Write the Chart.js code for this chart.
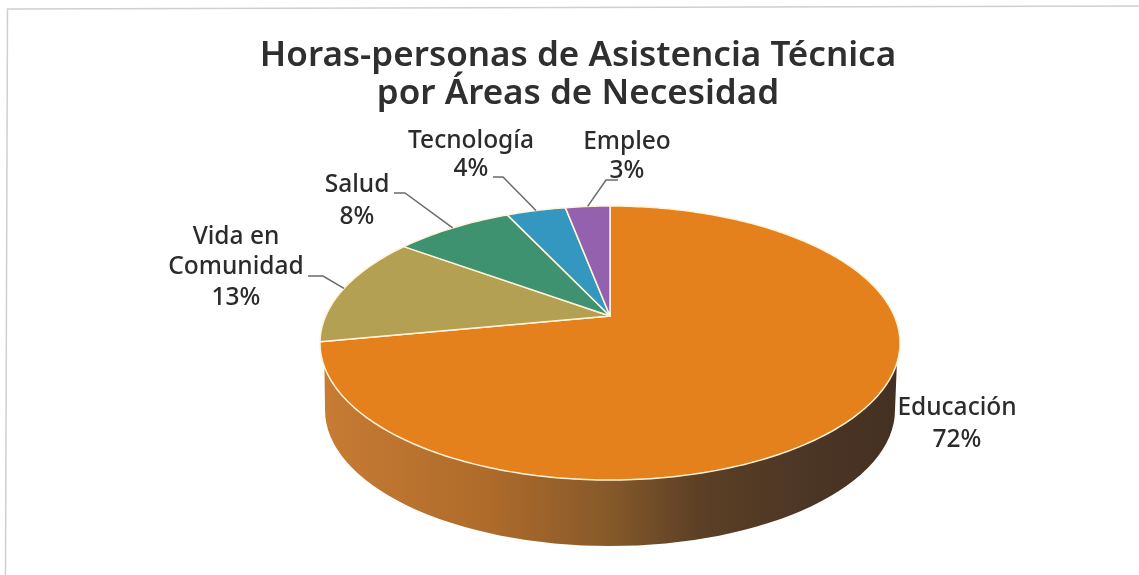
<!DOCTYPE html>
<html>
<head>
<meta charset="utf-8">
<script src="https://cdn.jsdelivr.net/npm/chart.js@4/dist/chart.umd.js"></script>
<style>
  html, body { margin: 0; padding: 0; background: #fff; }
  #wrap { position: relative; width: 1139px; height: 575px; overflow: hidden; }
</style>
</head>
<body>
<div id="wrap"><canvas id="chart" width="1139" height="575"></canvas></div>
<script>
const categories = [["Educación"], ["Vida en", "Comunidad"], ["Salud"], ["Tecnología"], ["Empleo"]];
const percents = [72, 13, 8, 4, 3];
const titleLines = ["Horas-personas de Asistencia Técnica", "por Áreas de Necesidad"];

const sliceColors = ["#e5811c", "#b3a052", "#3f9270", "#3397bf", "#9361ad"];
const wallStops = [[0, "#c87c34"], [0.3, "#ad6a2a"], [0.5, "#86592a"], [0.65, "#5c4026"], [0.85, "#4b3525"], [1, "#443022"]];
const textColor = "#2b2b2b";
const labelFont = '500 24.5px "Noto Sans"';

// the scanned pie is in perspective: circle goes to an ellipse, centre sits above the ellipse middle
const view = { shiftX: 32, squash: 137 / 290, lift: 0.197, wallDrop: 67, wallRx: 285 / 290, wallRy: 136 / 290 };

// label text centres, and the elbow of each leader line
const labelLayout = [
  { x: 957, y: 408, gap: 32 },
  { x: 236, y: 237, gap: 30.5, knee: [323, 276], end: [308, 276] },
  { x: 357, y: 185, gap: 32, knee: [405, 193], end: [394, 193] },
  { x: 471, y: 141, gap: 28, knee: [503, 177], end: [493, 177] },
  { x: 627, y: 142, gap: 29, knee: [606, 180], end: [618, 180] }
];

function project(arc, angle) {
  const u = Math.cos(angle), v = Math.sin(angle), b = -view.lift;
  const d = 1 + b * v, r = arc.outerRadius;
  return {
    x: arc.x + view.shiftX + r * u * Math.sqrt(1 - b * b) / d,
    y: arc.y + r * view.squash * (v + b) / d
  };
}

class PerspArc extends Chart.ArcElement {
  static id = "perspArc";
  draw(ctx) {
    const o = this.options;
    const steps = Math.max(2, Math.ceil((this.endAngle - this.startAngle) * 60));
    const apex = { x: this.x + view.shiftX, y: this.y - this.outerRadius * view.squash * view.lift };
    ctx.save();
    ctx.beginPath();
    ctx.moveTo(apex.x, apex.y);
    for (let i = 0; i <= steps; i++) {
      const p = project(this, this.startAngle + (this.endAngle - this.startAngle) * i / steps);
      ctx.lineTo(p.x, p.y);
    }
    ctx.closePath();
    ctx.fillStyle = o.backgroundColor;
    ctx.fill();
    ctx.strokeStyle = o.borderColor;
    ctx.lineWidth = o.borderWidth;
    ctx.lineJoin = "round";
    ctx.stroke();
    ctx.restore();
  }
}

class Pie3dController extends Chart.PieController {
  static id = "pie3d";
  static defaults = { dataElementType: "perspArc" };
}

Chart.register(PerspArc, Pie3dController);

// faint page edge left by the scanner, slightly skewed
const framePlugin = {
  id: "frame",
  beforeDraw(chart) {
    const ctx = chart.ctx;
    ctx.save();
    ctx.strokeStyle = "#cfcfcf";
    ctx.lineWidth = 1.5;
    ctx.beginPath();
    ctx.moveTo(5.5, 575);
    ctx.lineTo(7.5, 9);
    ctx.lineTo(1139, 6);
    ctx.stroke();
    ctx.restore();
  }
};

const wallPlugin = {
  id: "wall",
  beforeDatasetsDraw(chart) {
    const arc = chart.getDatasetMeta(0).data[0];
    const ctx = chart.ctx, r = arc.outerRadius;
    const cx = arc.x + view.shiftX, cy = arc.y;
    const ry = r * view.squash, start = 20 / ry;
    const grad = ctx.createLinearGradient(cx - r, 0, cx + r, 0);
    wallStops.forEach(s => grad.addColorStop(s[0], s[1]));
    ctx.save();
    ctx.beginPath();
    ctx.moveTo(cx + r * Math.cos(start), cy + ry * Math.sin(start));
    ctx.ellipse(cx, cy + view.wallDrop, r * view.wallRx, r * view.wallRy, 0, 0, Math.PI);
    ctx.lineTo(cx - r * Math.cos(start * 1.2), cy + ry * Math.sin(start * 1.2));
    ctx.closePath();
    ctx.fillStyle = grad;
    ctx.fill();
    ctx.restore();
  }
};

const labelPlugin = {
  id: "sliceLabels",
  afterDatasetsDraw(chart) {
    const ctx = chart.ctx, arcs = chart.getDatasetMeta(0).data;
    ctx.save();
    ctx.font = labelFont;
    ctx.fillStyle = textColor;
    ctx.textAlign = "center";
    ctx.textBaseline = "middle";
    arcs.forEach((arc, i) => {
      const place = labelLayout[i];
      const lines = categories[i].concat(percents[i] + "%");
      lines.forEach((t, n) => ctx.fillText(t, place.x, place.y + n * place.gap));
      if (!place.knee) return;
      const tip = project(arc, (arc.startAngle + arc.endAngle) / 2);
      ctx.beginPath();
      ctx.moveTo(place.end[0], place.end[1]);
      ctx.lineTo(place.knee[0], place.knee[1]);
      ctx.lineTo(tip.x, tip.y);
      ctx.strokeStyle = "#6b6b6b";
      ctx.lineWidth = 1.5;
      ctx.stroke();
    });
    ctx.restore();
  }
};

new Chart(document.getElementById("chart"), {
  type: "pie3d",
  data: {
    labels: categories,
    datasets: [{
      data: percents,
      backgroundColor: sliceColors,
      borderColor: "#fff4da",
      borderWidth: 1.5,
      radius: 290,
      clip: false
    }]
  },
  options: {
    responsive: false,
    maintainAspectRatio: false,
    animation: false,
    layout: { padding: { left: 17, right: 0, top: 0, bottom: 3 } },
    plugins: {
      legend: { display: false },
      tooltip: { enabled: false },
      title: {
        display: true,
        text: titleLines,
        color: "#2f2f2f",
        font: { family: '"Noto Sans"', size: 35, weight: "600", lineHeight: 1.086 },
        padding: { top: 37, bottom: 1 }
      }
    }
  },
  plugins: [framePlugin, wallPlugin, labelPlugin]
});
</script>
</body>
</html>
